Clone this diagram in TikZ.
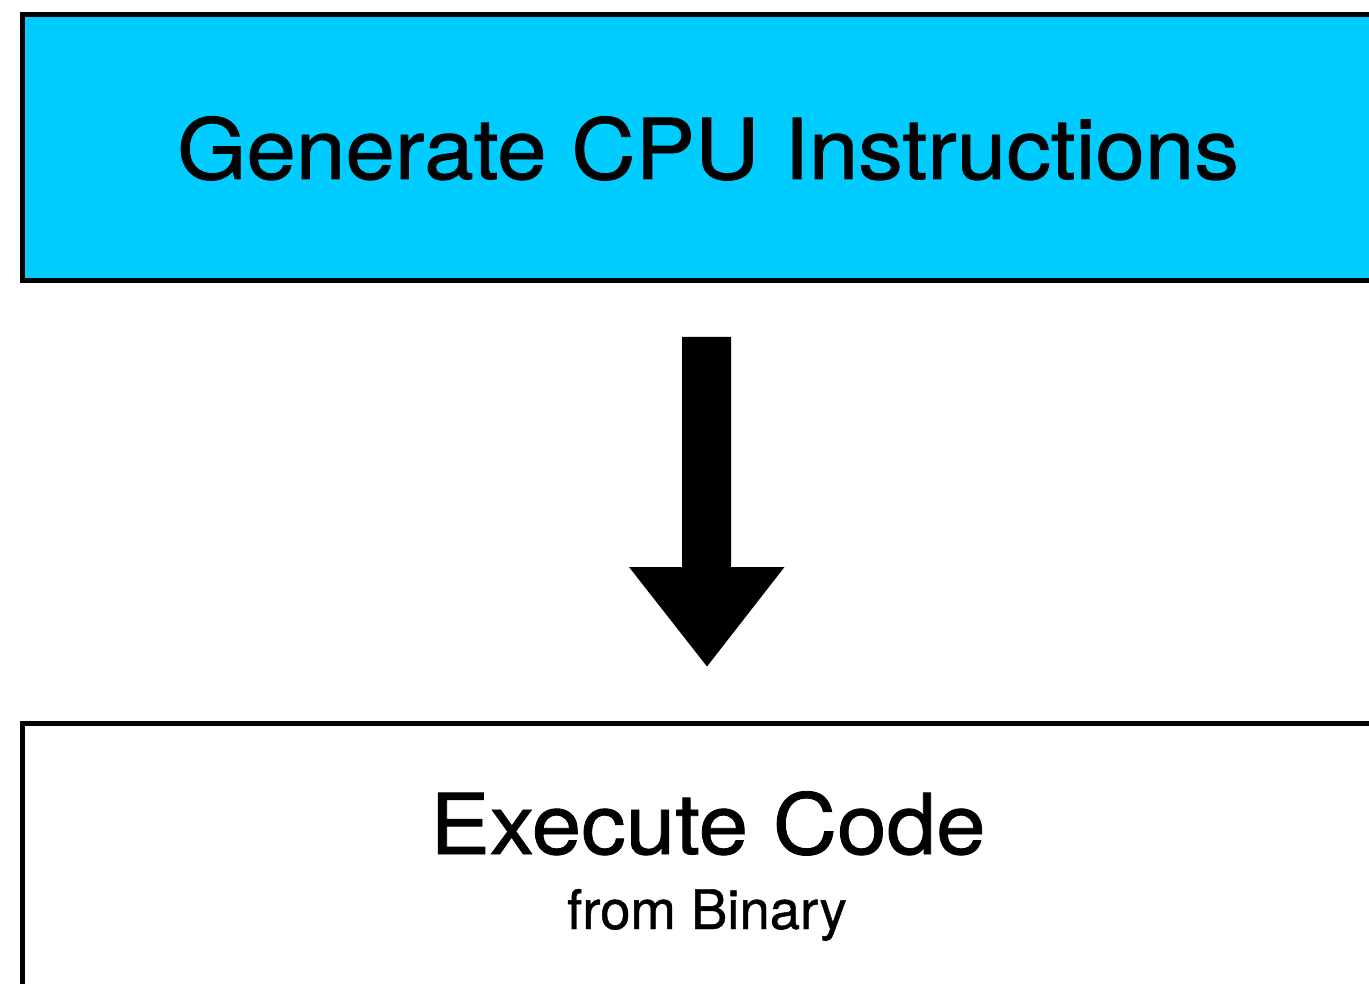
\documentclass[tikz,border=0pt]{standalone}
\usepackage{fontspec}
\setmainfont{TeX Gyre Heros}[FakeBold=0.8]
\newfontfamily\widefont{TeX Gyre Heros}[FakeBold=1.0,FakeStretch=1.06]
\definecolor{stepcyan}{HTML}{00CCFF}
\begin{document}
\begin{tikzpicture}[x=1pt,y=-1pt,
  stagebox/.style={draw=black,line width=5pt},
  bigtext/.style={anchor=base,inner sep=0pt,font=\widefont\fontsize{84}{94}\selectfont},
  smalltext/.style={anchor=base,inner sep=0pt,font=\fontsize{54.5}{64}\selectfont}]
\useasboundingbox (0,0) rectangle (1369,984);
% upper stage
\draw[stagebox,fill=stepcyan] (22.5,14.5) rectangle (1392,281);
\node[bigtext] (gen) at (708,179) {Generate CPU Instructions};
% lower stage
\draw[stagebox,fill=white] (22.5,723) rectangle (1392,1010);
\node[bigtext] (exe) at (708,854) {Execute Code};
\node[smalltext] (bin) at (707,929) {from Binary};
% block arrow between the stages
\coordinate (tail) at (707,337);
\coordinate (tip) at (707,666.5);
\fill[black] (682,337) -- (731,337) -- (731,567) -- (784.5,567) -- (tip)
  -- (629,567) -- (682,567) -- cycle;
\end{tikzpicture}
\end{document}
